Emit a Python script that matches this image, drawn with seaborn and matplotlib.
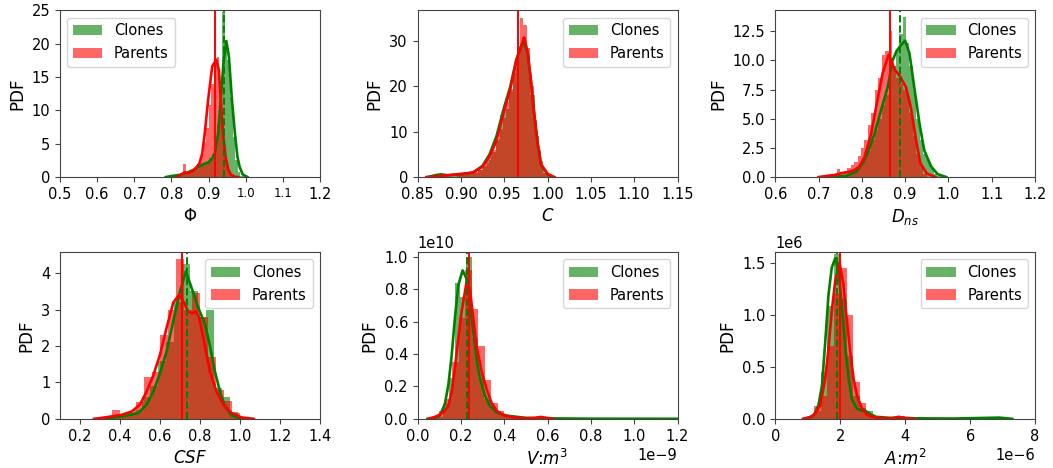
import numpy as np
import pandas as pd
import matplotlib
matplotlib.use("Agg")
import matplotlib.pyplot as plt
import seaborn as sns

# ---------------- data ----------------
series_names = ["Clones", "Parents"]

# ---- Phi ----
phi_clone_bins = (0.790, 1.000)
phi_clone_hist = [0.1, 0.1, 0.2, 0.2, 0.3, 0.4, 0.5, 0.6, 0.7, 0.9, 1.0, 1.2, 1.5, 1.8, 2.0,
                  2.3, 2.8, 3.5, 5.0, 8.0, 13.0, 24.8, 20.0, 17.5, 12.0, 6.0, 2.5, 0.8, 0.2, 0.1]
phi_parent_bins = (0.810, 0.971)
phi_parent_hist = [0.2, 0.3, 0.6, 2.0, 0.5, 0.6, 0.9, 1.2, 1.7, 2.4, 3.4, 5.2, 7.4, 10.8,
                   14.0, 17.5, 18.0, 14.5, 8.0, 3.0, 1.0, 0.3, 0.1]
phi_clone_kde_x = [0.785, 0.80, 0.82, 0.84, 0.86, 0.875, 0.885, 0.90, 0.91, 0.917, 0.926,
                   0.933, 0.94, 0.948, 0.955, 0.963, 0.971, 0.978, 0.984, 0.992, 1.005]
phi_clone_kde_y = [0.0, 0.15, 0.3, 0.6, 1.1, 1.6, 1.9, 2.2, 2.8, 3.6, 6.6,
                   11.6, 17.0, 20.4, 18.0, 11.6, 6.6, 3.0, 1.5, 0.4, 0.0]
phi_parent_kde_x = [0.815, 0.825, 0.835, 0.845, 0.855, 0.865, 0.875, 0.883, 0.89, 0.899,
                    0.91, 0.921, 0.928, 0.933, 0.939, 0.946, 0.953, 0.96, 0.97, 0.98]
phi_parent_kde_y = [0.0, 0.3, 0.7, 0.6, 0.8, 1.3, 2.0, 3.5, 6.6, 11.6,
                    16.6, 17.6, 16.0, 11.6, 6.6, 3.0, 1.2, 0.4, 0.05, 0.0]
phi_means = (0.943, 0.918)

# ---- C ----
c_clone_bins = (0.865, 1.005)
c_clone_hist = [0.3, 0.6, 0.6, 0.3, 0.2, 0.3, 0.4, 0.5, 0.6, 0.8, 1.0, 1.6, 2.5, 3.8, 5.5,
                8.5, 13.7, 15.0, 19.0, 24.0, 29.0, 31.0, 27.0, 18.0, 9.0, 3.5, 0.8, 0.2]
c_parent_bins = (0.896, 1.004)
c_parent_hist = [0.5, 0.6, 0.6, 0.7, 0.9, 1.2, 1.5, 2.2, 3.0, 4.5, 6.0, 8.0, 10.5, 13.0,
                 16.5, 19.5, 23.0, 27.0, 35.0, 33.5, 28.5, 20.0, 12.5, 6.0, 2.5, 0.8, 0.2]
c_clone_kde_x = [0.862, 0.87, 0.877, 0.885, 0.90, 0.914, 0.925, 0.933, 0.941, 0.95, 0.957,
                 0.964, 0.972, 0.977, 0.981, 0.985, 0.989, 0.993, 1.0, 1.006]
c_clone_kde_y = [0.0, 0.4, 0.6, 0.4, 0.6, 1.0, 2.5, 5.0, 9.0, 15.5, 20.0,
                 26.0, 30.0, 27.5, 21.0, 13.5, 7.0, 2.5, 0.6, 0.0]
c_parent_kde_x = [0.86, 0.88, 0.90, 0.914, 0.925, 0.933, 0.941, 0.95, 0.9565, 0.964, 0.973,
                  0.9765, 0.9804, 0.984, 0.988, 0.992, 1.0, 1.008]
c_parent_kde_y = [0.0, 0.3, 0.7, 1.0, 2.3, 4.5, 8.0, 14.7, 19.0, 25.7, 30.8,
                  28.0, 22.0, 14.7, 8.0, 3.0, 0.7, 0.0]
c_means = (0.966, 0.966)

# ---- D_ns ----
d_clone_bins = (0.750, 0.990)
d_clone_hist = [0.1, 0.1, 0.2, 0.3, 0.5, 0.8, 1.2, 1.8, 2.2, 3.2, 4.0, 5.0, 6.2, 7.0, 8.8,
                9.5, 11.0, 12.3, 13.7, 11.5, 9.5, 7.5, 5.0, 3.2, 2.0, 1.5, 0.8, 0.3, 0.1, 0.05]
d_parent_bins = (0.702, 0.950)
d_parent_hist = [0.1, 0.1, 0.2, 0.2, 0.3, 0.7, 0.4, 0.5, 0.8, 1.0, 1.3, 1.8, 2.5, 3.2, 4.5,
                 5.5, 7.5, 8.5, 10.5, 10.8, 12.5, 9.5, 8.5, 8.0, 7.5, 7.2, 5.5, 3.5, 2.0, 1.0, 0.3]
d_clone_kde_x = [0.73, 0.764, 0.787, 0.802, 0.813, 0.829, 0.844, 0.8596, 0.871, 0.88, 0.89,
                 0.90, 0.91, 0.921, 0.933, 0.944, 0.96, 0.975, 0.995]
d_clone_kde_y = [0.0, 0.1, 0.45, 1.2, 2.0, 3.7, 5.7, 7.7, 10.0, 10.8, 11.3,
                 11.7, 10.6, 7.7, 4.6, 2.3, 0.9, 0.25, 0.0]
d_parent_kde_x = [0.70, 0.72, 0.74, 0.755, 0.771, 0.783, 0.794, 0.806, 0.8215, 0.833, 0.848,
                  0.862, 0.876, 0.887, 0.902, 0.913, 0.925, 0.935, 0.95, 0.97]
d_parent_kde_y = [0.0, 0.1, 0.2, 0.35, 0.45, 0.6, 0.9, 1.7, 3.7, 6.0, 8.9,
                  10.5, 9.2, 8.7, 7.7, 6.0, 3.2, 1.2, 0.3, 0.0]
d_means = (0.887, 0.864)

# ---- CSF ----
csf_clone_bins = (0.39, 0.99)
csf_clone_hist = [0.1, 0.1, 0.25, 0.6, 0.9, 1.6, 2.1, 3.2, 4.25, 3.5, 2.8, 3.0, 0.85, 0.6, 0.2]
csf_parent_bins = (0.36, 1.00)
csf_parent_hist = [0.25, 0.12, 0.2, 0.45, 1.15, 1.3, 2.3, 3.0, 4.4, 3.0, 3.45, 2.8, 1.7,
                   0.8, 0.5, 0.15]
csf_clone_kde_x = [0.325, 0.392, 0.442, 0.492, 0.533, 0.567, 0.60, 0.633, 0.667, 0.70, 0.73,
                   0.758, 0.792, 0.825, 0.85, 0.875, 0.90, 0.925, 0.958, 0.992, 1.02]
csf_clone_kde_y = [0.0, 0.05, 0.1, 0.16, 0.39, 0.75, 1.25, 1.85, 2.7, 3.5, 4.05,
                   3.6, 3.05, 2.6, 2.0, 1.3, 0.75, 0.34, 0.1, 0.02, 0.0]
csf_parent_kde_x = [0.27, 0.325, 0.408, 0.458, 0.50, 0.533, 0.567, 0.60, 0.633, 0.667, 0.695,
                    0.72, 0.74, 0.76, 0.78, 0.795, 0.81, 0.825, 0.85, 0.883, 0.917, 0.958,
                    1.008, 1.07]
csf_parent_kde_y = [0.0, 0.04, 0.11, 0.2, 0.39, 0.75, 1.2, 1.76, 2.5, 3.2, 3.4,
                    3.2, 2.95, 2.9, 2.95, 2.8, 2.4, 2.0, 1.3, 0.75, 0.39, 0.16,
                    0.04, 0.0]
csf_means = (0.735, 0.708)

# ---- V (x in 1e-9 m^3, density in 1e10) ----
v_clone_bins = (0.090, 0.495)
v_clone_hist = [0.01, 0.09, 0.25, 0.84, 0.75, 1.0, 0.5, 0.25, 0.12, 0.07, 0.05, 0.03, 0.02,
                0.01, 0.005]
v_parent_bins = (0.07, 0.58)
v_parent_hist = [0.02, 0.05, 0.12, 0.35, 0.62, 0.92, 0.68, 0.45, 0.24, 0.10, 0.05, 0.02,
                 0.01, 0.005, 0.0, 0.0, 0.02]
v_clone_kde_x = [0.045, 0.08, 0.103, 0.126, 0.142, 0.157, 0.172, 0.1877, 0.2077, 0.226,
                 0.2415, 0.257, 0.272, 0.288, 0.311, 0.334, 0.365, 0.411, 0.50, 0.60, 0.80, 1.2]
v_clone_kde_y = [0.0, 0.005, 0.02, 0.093, 0.21, 0.39, 0.62, 0.825, 0.917, 0.866,
                 0.72, 0.536, 0.37, 0.25, 0.144, 0.08, 0.04, 0.02, 0.006, 0.003, 0.001, 0.0005]
v_parent_kde_x = [0.05, 0.088, 0.118, 0.142, 0.157, 0.172, 0.1877, 0.203, 0.226, 0.2415,
                  0.257, 0.272, 0.296, 0.318, 0.341, 0.365, 0.40, 0.45, 0.50, 0.54, 0.57,
                  0.60, 0.63]
v_parent_kde_y = [0.0, 0.016, 0.04, 0.08, 0.165, 0.31, 0.495, 0.66, 0.845, 0.80,
                  0.62, 0.45, 0.29, 0.186, 0.1, 0.05, 0.02, 0.008, 0.004, 0.006, 0.012,
                  0.005, 0.0]
v_means = (0.228, 0.235)

# ---- A (x in 1e-6 m^2, density in 1e6) ----
a_clone_bins = (1.0, 7.0)
a_clone_hist = [0.02, 0.08, 0.45, 1.08, 1.58, 1.15, 0.6, 0.22, 0.1, 0.08, 0.03, 0.01, 0.005,
                0.005, 0.01, 0, 0, 0, 0, 0, 0, 0, 0, 0, 0, 0, 0, 0, 0, 0.005]
a_parent_bins = (1.0, 4.0)
a_parent_hist = [0.02, 0.12, 0.22, 0.7, 1.2, 1.45, 1.0, 0.35, 0.15, 0.05, 0.02, 0.0, 0.0,
                 0.02, 0.03]
a_clone_kde_x = [0.9, 1.18, 1.33, 1.44, 1.54, 1.64, 1.74, 1.846, 1.95, 2.05, 2.15, 2.26,
                 2.36, 2.51, 2.65, 2.77, 2.9, 3.1, 3.5, 3.9, 4.3, 5.5, 6.9, 7.3]
a_clone_kde_y = [0.0, 0.03, 0.13, 0.32, 0.74, 1.19, 1.45, 1.54, 1.41, 1.09, 0.71, 0.39,
                 0.19, 0.1, 0.08, 0.08, 0.05, 0.02, 0.01, 0.012, 0.005, 0.003, 0.012, 0.0]
a_parent_kde_x = [0.85, 1.08, 1.23, 1.385, 1.54, 1.64, 1.74, 1.846, 1.98, 2.1, 2.2, 2.31,
                  2.41, 2.51, 2.67, 2.82, 3.1, 3.6, 3.8, 4.0, 4.3]
a_parent_kde_y = [0.0, 0.016, 0.05, 0.13, 0.39, 0.675, 1.03, 1.32, 1.5, 1.29, 0.96, 0.64,
                  0.39, 0.23, 0.1, 0.04, 0.01, 0.005, 0.02, 0.005, 0.0]
a_means = (1.9, 2.0)

xlabels = [r"$\Phi$", r"$C$", r"$D_{ns}$", r"$CSF$", r"$V$:$m^3$", r"$A$:$m^2$"]

# ---------------- layout / style ----------------
plt.rcParams["font.size"] = 10.5
plt.rcParams["axes.labelsize"] = 12
plt.rcParams["font.family"] = ["DejaVu Sans"]
plt.rcParams["axes.edgecolor"] = "#444444"
plt.rcParams["xtick.color"] = "#444444"
plt.rcParams["ytick.color"] = "#444444"
plt.rcParams["xtick.labelcolor"] = "black"
plt.rcParams["ytick.labelcolor"] = "black"

panels = [
    dict(cb=phi_clone_bins, ch=phi_clone_hist, pb=phi_parent_bins, ph=phi_parent_hist,
         ck=(phi_clone_kde_x, phi_clone_kde_y), pk=(phi_parent_kde_x, phi_parent_kde_y),
         means=phi_means, xlim=(0.5, 1.2), ylim=(0, 25), sx=1, sy=1, loc="upper left",
         xt=[0.5, 0.6, 0.7, 0.8, 0.9, 1.0, 1.1, 1.2], yt=[0, 5, 10, 15, 20, 25]),
    dict(cb=c_clone_bins, ch=c_clone_hist, pb=c_parent_bins, ph=c_parent_hist,
         ck=(c_clone_kde_x, c_clone_kde_y), pk=(c_parent_kde_x, c_parent_kde_y),
         means=c_means, xlim=(0.85, 1.15), ylim=(0, 36.8), sx=1, sy=1, loc="upper right",
         xt=[0.85, 0.90, 0.95, 1.00, 1.05, 1.10, 1.15], yt=[0, 10, 20, 30]),
    dict(cb=d_clone_bins, ch=d_clone_hist, pb=d_parent_bins, ph=d_parent_hist,
         ck=(d_clone_kde_x, d_clone_kde_y), pk=(d_parent_kde_x, d_parent_kde_y),
         means=d_means, xlim=(0.6, 1.2), ylim=(0, 14.3), sx=1, sy=1, loc="upper right",
         xt=[0.6, 0.7, 0.8, 0.9, 1.0, 1.1, 1.2], yt=[0, 2.5, 5, 7.5, 10, 12.5]),
    dict(cb=csf_clone_bins, ch=csf_clone_hist, pb=csf_parent_bins, ph=csf_parent_hist,
         ck=(csf_clone_kde_x, csf_clone_kde_y), pk=(csf_parent_kde_x, csf_parent_kde_y),
         means=csf_means, xlim=(0.1, 1.4), ylim=(0, 4.58), sx=1, sy=1, loc="upper right",
         xt=[0.2, 0.4, 0.6, 0.8, 1.0, 1.2, 1.4], yt=[0, 1, 2, 3, 4]),
    dict(cb=v_clone_bins, ch=v_clone_hist, pb=v_parent_bins, ph=v_parent_hist,
         ck=(v_clone_kde_x, v_clone_kde_y), pk=(v_parent_kde_x, v_parent_kde_y),
         means=v_means, xlim=(0, 1.2e-9), ylim=(0, 1.03e10), sx=1e-9, sy=1e10, loc="upper right",
         xt=[0, 0.2e-9, 0.4e-9, 0.6e-9, 0.8e-9, 1.0e-9, 1.2e-9],
         yt=[0, 0.2e10, 0.4e10, 0.6e10, 0.8e10, 1.0e10]),
    dict(cb=a_clone_bins, ch=a_clone_hist, pb=a_parent_bins, ph=a_parent_hist,
         ck=(a_clone_kde_x, a_clone_kde_y), pk=(a_parent_kde_x, a_parent_kde_y),
         means=a_means, xlim=(0, 8e-6), ylim=(0, 1.60e6), sx=1e-6, sy=1e6, loc="upper right",
         xt=[0, 2e-6, 4e-6, 6e-6, 8e-6], yt=[0, 0.5e6, 1.0e6, 1.5e6]),
]

colors = ["green", "red"]

fig, axes = plt.subplots(2, 3, figsize=(10.53, 4.68), dpi=100)
fig.subplots_adjust(left=0.057, right=0.983, top=0.978, bottom=0.105, wspace=0.376, hspace=0.45)


def draw_series(ax, bins, hist, kde, color, sx, sy, label):
    n = len(hist)
    width = (bins[1] - bins[0]) / n
    centers = (bins[0] + width * (np.arange(n) + 0.5)) * sx
    df = pd.DataFrame({"x": centers, "w": np.asarray(hist, dtype=float) * sy})
    sns.histplot(data=df, x="x", weights="w", binwidth=width * sx,
                 binrange=(bins[0] * sx, bins[1] * sx), stat="count", color=color,
                 alpha=0.6, linewidth=0, ax=ax, label=label)
    kdf = pd.DataFrame({"x": np.asarray(kde[0]) * sx, "y": np.asarray(kde[1]) * sy})
    sns.lineplot(data=kdf, x="x", y="y", color=color, linewidth=1.9, ax=ax)


for ax, p, xl in zip(axes.flat, panels, xlabels):
    draw_series(ax, p["cb"], p["ch"], p["ck"], colors[0], p["sx"], p["sy"], series_names[0])
    draw_series(ax, p["pb"], p["ph"], p["pk"], colors[1], p["sx"], p["sy"], series_names[1])
    ax.axvline(p["means"][0] * p["sx"], color="green", lw=1.4, ls="--")
    ax.axvline(p["means"][1] * p["sx"], color="red", lw=1.4)
    ax.set_xlim(*p["xlim"])
    ax.set_ylim(*p["ylim"])
    ax.set_xticks(p["xt"])
    ax.set_yticks(p["yt"])
    ax.set_xlabel(xl)
    ax.set_ylabel("PDF")
    ax.legend(handles=ax.containers[:2], labels=series_names, loc=p["loc"])

# the reference renders the 1.0 / 1.1 tick labels of the first panel smaller
for i, t in enumerate(axes[0, 0].get_xticklabels()):
    if i in (5, 6):
        t.set_fontsize(8.5)

fig.savefig("out.png", dpi=100)
